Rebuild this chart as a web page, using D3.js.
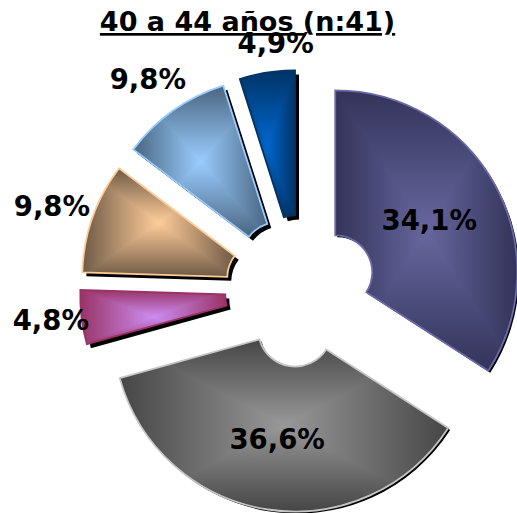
<!DOCTYPE html>
<html><head><meta charset="utf-8">
<script src="https://cdnjs.cloudflare.com/ajax/libs/d3/7.8.5/d3.min.js"></script>
<style>html,body{margin:0;padding:0;background:#fff}svg{display:block}text{font-family:"DejaVu Sans",sans-serif;font-weight:bold;fill:#000}</style>
</head><body><svg id="c" width="517" height="513"></svg>
<script>
const titleText = "40 a 44 años (n:41)";
const sliceValues = [34.1, 36.6, 4.8, 9.8, 9.8, 4.9];
const sliceLabels = ["34,1%", "36,6%", "4,8%", "9,8%", "9,8%", "4,9%"];
const centerColors = ["#67679f", "#989898", "#cc8df2", "#ffcc99", "#99ccff", "#0066cc"];
const edgeColors = ["#33335a", "#464646", "#993366", "#6e5a46", "#4a6580", "#003366"];
const strokeColors = ["#6a6aa6", "#c4c4c4", "#993366", "#ffcc99", "#99ccff", "#003366"];
const shadowOffsets = [2, 2, 4, 4, 4, 4];
const labelRadii = [145, 152, 256, 262, 260, 250];
const labelShiftX = [1, -1, 4, -2, -3, 13];
const labelShiftY = [-1, -1, 0, 3, 1, 0];

const cx = 301, cy = 291, outer = 182, inner = 37, explode = 39;
const svg = d3.select("#c");
const defs = svg.append("defs");
const pie = d3.pie().sort(null).value(d => d)(sliceValues);
const arc = d3.arc().innerRadius(inner).outerRadius(outer);

function polar(a, r) { return [cx + Math.sin(a) * r, cy - Math.cos(a) * r]; }

centerColors.forEach((c, i) => {
  [["h", "100%", "0%"], ["v", "0%", "100%"]].forEach(([k, x2, y2]) => {
    const g = defs.append("linearGradient").attr("id", `g${k}${i}`)
      .attr("x1", "0%").attr("y1", "0%").attr("x2", x2).attr("y2", y2);
    g.append("stop").attr("offset", "0%").attr("stop-color", edgeColors[i]);
    g.append("stop").attr("offset", "50%").attr("stop-color", c);
    g.append("stop").attr("offset", "100%").attr("stop-color", edgeColors[i]);
  });
});

const slices = svg.selectAll("g.slice").data(pie).join("g").attr("class", "slice")
  .attr("transform", d => {
    const p = polar((d.startAngle + d.endAngle) / 2, explode);
    return `translate(${p[0]},${p[1]})`;
  });
slices.append("path").attr("d", arc).attr("fill", "#000")
  .attr("transform", (d, i) => `translate(${shadowOffsets[i]},${shadowOffsets[i]})`);
const body = slices.append("g").style("isolation", "isolate");
body.append("path").attr("d", arc).attr("fill", (d, i) => `url(#gh${i})`);
body.append("path").attr("d", arc).attr("fill", (d, i) => `url(#gv${i})`)
  .style("mix-blend-mode", "darken");
slices.append("path").attr("d", arc).attr("fill", "none")
  .attr("stroke", (d, i) => strokeColors[i]).attr("stroke-width", 1.8);

svg.append("text").attr("x", 247.5).attr("y", 31).attr("text-anchor", "middle")
  .attr("font-size", 27).attr("text-decoration", "underline").text(titleText);

svg.selectAll("text.lab").data(pie).join("text").attr("class", "lab")
  .attr("text-anchor", "middle").attr("font-size", 27.5)
  .attr("x", (d, i) => polar((d.startAngle + d.endAngle) / 2, labelRadii[i])[0] + labelShiftX[i])
  .attr("y", (d, i) => polar((d.startAngle + d.endAngle) / 2, labelRadii[i])[1] + 9 + labelShiftY[i])
  .text((d, i) => sliceLabels[i]);
</script></body></html>
